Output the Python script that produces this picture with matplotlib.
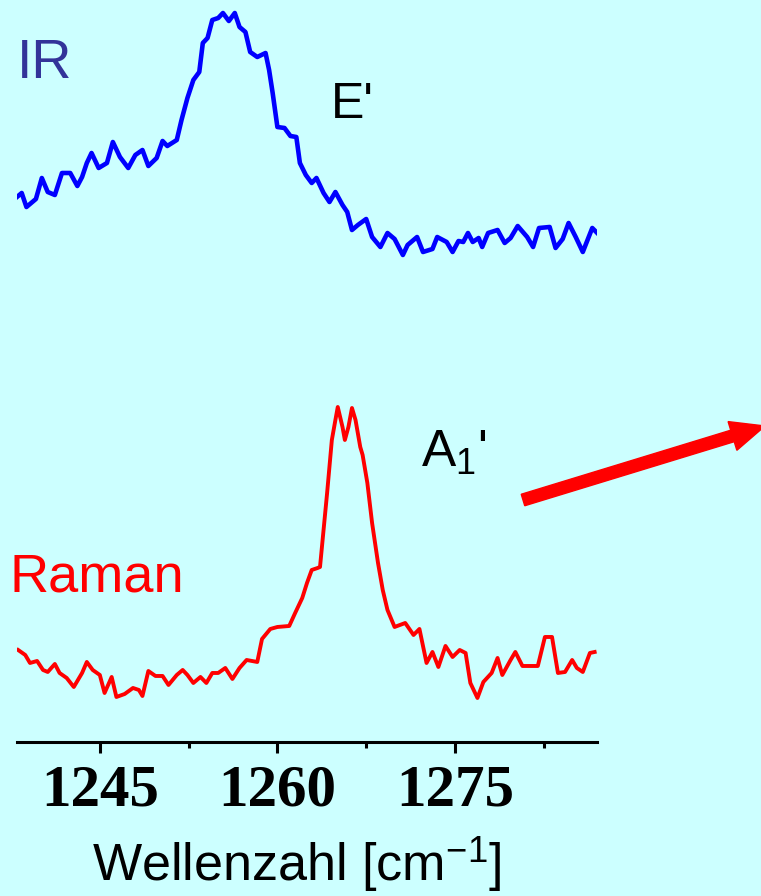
import numpy as np
import matplotlib
matplotlib.use('Agg')
import matplotlib.pyplot as plt
from matplotlib.patches import FancyArrow

# IR spectrum (wavenumber in cm^-1, intensity in arbitrary units)
ir_wn = [1238.0, 1238.4, 1238.8, 1239.3, 1239.6, 1240.1, 1240.6, 1241.2, 1241.8, 1242.5,
         1243.1, 1243.5, 1243.9, 1244.3, 1244.9, 1245.6, 1246.1, 1246.7, 1247.4, 1248.0,
         1248.6, 1249.1, 1249.8, 1250.3, 1250.7, 1251.5, 1251.9, 1252.4, 1252.9, 1253.4,
         1253.7, 1254.1, 1254.5, 1255.0, 1255.4, 1255.9, 1256.4, 1256.8, 1257.3, 1257.7,
         1258.3, 1259.0, 1259.3, 1259.6, 1260.0, 1260.6, 1261.1, 1261.6, 1261.9, 1262.4,
         1262.9, 1263.3, 1263.9, 1264.4, 1264.9, 1265.5, 1265.9, 1266.3, 1266.8, 1267.5,
         1268.0, 1268.7, 1269.3, 1269.9, 1270.6, 1271.0, 1271.8, 1272.3, 1273.1, 1273.5,
         1274.3, 1274.8, 1275.3, 1275.7, 1276.1, 1276.5, 1277.0, 1277.3, 1277.8, 1278.6,
         1279.2, 1279.7, 1280.3, 1281.1, 1281.6, 1282.1, 1283.0, 1283.5, 1284.1, 1284.6,
         1285.2, 1285.8, 1286.6, 1287.1]
ir_int = [58, 62, 48, 53, 56, 77, 63, 60, 82, 82,
          69, 78, 92, 102, 87, 92, 113, 98, 87, 100,
          105, 89, 97, 114, 109, 115, 135, 157, 175, 183,
          212, 217, 235, 237, 242, 234, 242, 228, 223, 203,
          198, 202, 185, 162, 128, 127, 119, 118, 92, 80,
          72, 77, 62, 53, 63, 50, 43, 25, 30, 36,
          18, 8, 22, 16, 0, 10, 18, 3, 6, 18,
          13, 3, 14, 13, 22, 13, 17, 8, 22, 25,
          12, 17, 29, 18, 8, 27, 28, 7, 16, 32,
          18, 3, 27, 21]

# Raman spectrum
raman_wn = [1238.1, 1238.7, 1239.1, 1239.7, 1240.2, 1240.6, 1241.2, 1241.6, 1242.2, 1242.8,
            1243.5, 1243.9, 1244.4, 1245.0, 1245.4, 1246.0, 1246.4, 1247.1, 1247.8, 1248.3,
            1248.6, 1249.1, 1249.7, 1250.3, 1250.8, 1251.5, 1252.0, 1252.4, 1252.9, 1253.5,
            1254.0, 1254.5, 1255.0, 1255.6, 1256.2, 1256.8, 1257.4, 1258.3, 1258.7, 1259.4,
            1260.0, 1261.0, 1261.5, 1262.1, 1262.5, 1262.9, 1263.4,
            1263.6, 1263.9, 1264.2, 1264.6, 1264.9, 1265.1, 1265.5, 1265.7, 1266.0, 1266.3,
            1266.6, 1267.0, 1267.2, 1267.6, 1268.0, 1268.5, 1268.9, 1269.3, 1269.9, 1270.8,
            1271.5, 1272.0, 1272.6, 1273.1, 1273.6, 1274.2, 1274.8, 1275.4, 1275.9, 1276.3,
            1276.9, 1277.4, 1278.1, 1278.6, 1279.0, 1279.7, 1280.1, 1280.7, 1282.0, 1282.6,
            1283.2, 1283.7, 1284.3, 1284.9, 1285.3, 1285.8, 1286.4, 1286.8]
raman_int = [50, 45, 37, 39, 30, 28, 36, 27, 22, 13,
             27, 38, 30, 25, 7, 23, 3, 6, 12, 10,
             4, 29, 24, 24, 15, 25, 30, 25, 17, 23,
             17, 27, 27, 32, 21, 32, 40, 38, 61, 71,
             73, 74, 87, 102, 117, 130, 132,
             133, 170, 207, 260, 280, 293, 273, 260, 273, 292,
             280, 253, 245, 217, 177, 137, 110, 90, 73, 77,
             65, 71, 37, 48, 33, 54, 43, 50, 47, 17,
             2, 18, 27, 42, 25, 40, 48, 34, 34, 63,
             63, 27, 28, 40, 32, 28, 47, 48]

major_ticks = [1245, 1260, 1275]
minor_ticks = [1252.5, 1267.5, 1282.5]

bg = '#ccffff'


def main():
	plt.rcParams['mathtext.fontset'] = 'custom'
	plt.rcParams['mathtext.rm'] = 'Liberation Sans'
	plt.rcParams['mathtext.it'] = 'Liberation Sans'

	fig = plt.figure(figsize=(7.61, 8.96), dpi=100, facecolor=bg)
	ax = fig.add_axes([0.0223, 0.1719, 0.7622, 0.8281])
	ax.set_facecolor(bg)

	# stack the two spectra, IR on top
	ir_offset = 487
	raman_offset = 42
	ax.plot(ir_wn, np.array(ir_int) + ir_offset, color='#0000ff', lw=3.3)
	ax.plot(raman_wn, np.array(raman_int) + raman_offset, color='#ff0000', lw=2.8)

	ax.set_xlim(1238.0, 1287.0)
	ax.set_ylim(0, 742)

	for s in ['left', 'right', 'top']:
		ax.spines[s].set_visible(False)
	ax.spines['bottom'].set_linewidth(2.2)
	ax.set_yticks([])
	ax.set_xticks(major_ticks)
	ax.set_xticks(minor_ticks, minor=True)
	ax.tick_params(axis='x', which='major', direction='out', length=8, width=2.2, pad=8)
	ax.tick_params(axis='x', which='minor', direction='out', length=4, width=2.2)
	for lab in ax.get_xticklabels():
		lab.set_fontfamily('Liberation Serif')
		lab.set_fontweight('bold')
		lab.set_fontsize(42.5)

	# axis title right at the bottom edge (nudged up a bit so the brackets fit)
	fig.text(0.390, 0.0165, 'Wellenzahl [cm$^{-1}$]', ha='center', va='baseline',
	         fontsize=37.5, family='Liberation Sans')

	# labels
	fig.text(17 / 761, 1 - 78 / 896, 'IR', color='#333399', fontsize=40,
	         family='Liberation Sans', va='baseline')
	fig.text(331 / 761, 1 - 118 / 896, "E'", color='black', fontsize=36,
	         family='Liberation Sans', va='baseline')
	fig.text(10 / 761, 1 - 592 / 896, 'Raman', color='#ff0000', fontsize=39,
	         family='Liberation Sans', va='baseline')
	fig.text(421 / 761, 1 - 467 / 896, "A$_1$'", color='black', fontsize=37,
	         family='Liberation Sans', va='baseline')

	# big red arrow pointing off to the right
	arr = FancyArrow(5.23, 3.96, 2.42, 0.74, width=0.12, head_width=0.30,
	                 head_length=0.34, length_includes_head=True,
	                 color='#ff0000', transform=fig.dpi_scale_trans)
	fig.patches.append(arr)

	fig.savefig('out.png', dpi=100, facecolor=bg)


if __name__ == "__main__":
	main()
